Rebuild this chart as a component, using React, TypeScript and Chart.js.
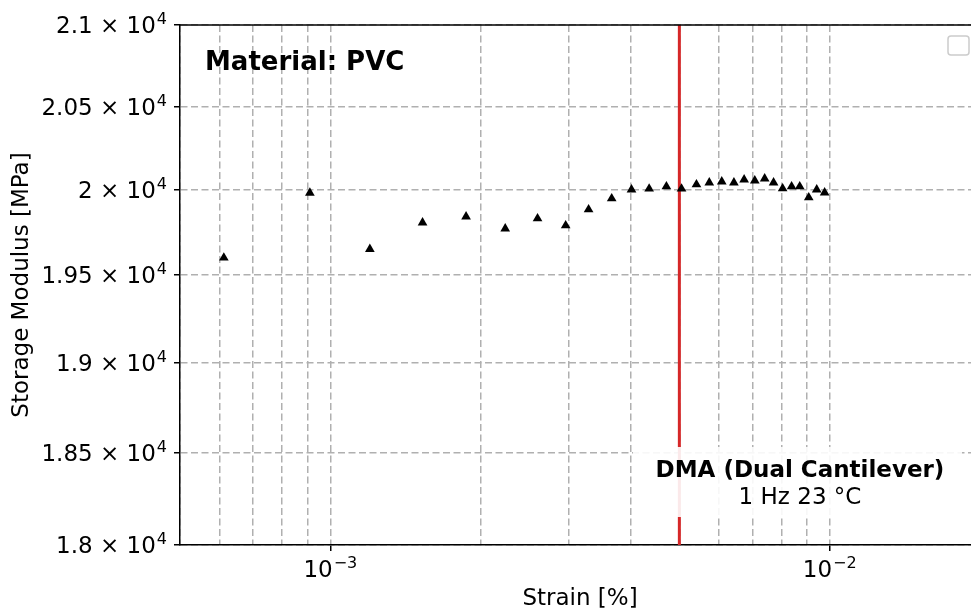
import { useEffect, useRef } from "react";
import { Chart, registerables } from "chart.js";

Chart.register(...registerables);

// Measured strain sweep (DMA, dual cantilever, 1 Hz, 23 °C)
const STRAIN = [
  6.12e-4, 9.1e-4, 1.2e-3, 1.53e-3, 1.87e-3, 2.24e-3, 2.6e-3, 2.96e-3, 3.29e-3, 3.66e-3,
  4.01e-3, 4.35e-3, 4.71e-3, 5.05e-3, 5.41e-3, 5.74e-3, 6.08e-3, 6.43e-3, 6.74e-3, 7.08e-3,
  7.41e-3, 7.72e-3, 8.05e-3, 8.39e-3, 8.71e-3, 9.08e-3, 9.42e-3, 9.77e-3,
];
const MODULUS = [
  19600, 19980, 19650, 19805, 19840, 19770, 19829, 19788, 19882, 19947,
  20000, 20005, 20018, 20005, 20030, 20041, 20047, 20041, 20059, 20053,
  20065, 20041, 20006, 20018, 20018, 19953, 20000, 19982,
];

// Limit of the linear viscoelastic region
const LVR_LIMIT = 0.005;

const X_MIN = 5e-4;
const X_MAX = 2e-2;
const Y_MIN = 18000;
const Y_MAX = 21000;

const X_TICKS = [
  5e-4, 6e-4, 7e-4, 8e-4, 9e-4,
  1e-3, 2e-3, 3e-3, 4e-3, 5e-3, 6e-3, 7e-3, 8e-3, 9e-3,
  1e-2, 2e-2,
];
// decade ticks: value, mantissa text, exponent text
const X_MAJOR_TICKS = [1e-3, 1e-2];
const X_MAJOR_BASES = ["10", "10"];
const X_MAJOR_EXPONENTS = ["−3", "−2"];

const Y_TICKS = [18000, 18500, 19000, 19500, 20000, 20500, 21000];
const Y_TICK_BASES = ["1.8 × 10", "1.85 × 10", "1.9 × 10", "1.95 × 10", "2 × 10", "2.05 × 10", "2.1 × 10"];
const Y_TICK_EXPONENT = "4";

const TITLE_TEXT = "Material: PVC";
const METHOD_TEXT = "DMA (Dual Cantilever)";
const CONDITION_TEXT = "1 Hz 23 °C";

const FONT = "'DejaVu Sans', sans-serif";
const FONT_SIZE = 23;
const SUP_SIZE = 16;
const SUP_RAISE = 9;

const majorIndex = (v: number) =>
  X_MAJOR_TICKS.findIndex((m) => Math.abs(Math.log10(v) - Math.log10(m)) < 1e-9);

const overlayPlugin = {
  id: "overlay",
  afterDatasetsDraw(chart: any) {
    const { ctx, chartArea } = chart;
    const { left, top, right, bottom } = chartArea;
    const xScale = chart.scales.x;
    const yScale = chart.scales.y;
    ctx.save();

    // top spine
    ctx.strokeStyle = "#000";
    ctx.lineWidth = 1.5;
    ctx.beginPath();
    ctx.moveTo(left, top);
    ctx.lineTo(right, top);
    ctx.stroke();

    // y tick labels with superscript exponent
    ctx.fillStyle = "#000";
    ctx.textBaseline = "alphabetic";
    const yLabelRight = left - 13;
    ctx.font = `${SUP_SIZE}px ${FONT}`;
    const supW = ctx.measureText(Y_TICK_EXPONENT).width;
    Y_TICKS.forEach((v, i) => {
      const py = yScale.getPixelForValue(v);
      const baseY = py + 8.4;
      ctx.font = `${FONT_SIZE}px ${FONT}`;
      ctx.textAlign = "right";
      ctx.fillText(Y_TICK_BASES[i], yLabelRight - supW - 1, baseY);
      ctx.font = `${SUP_SIZE}px ${FONT}`;
      ctx.textAlign = "left";
      ctx.fillText(Y_TICK_EXPONENT, yLabelRight - supW, baseY - SUP_RAISE);
    });

    // x tick labels (decades)
    X_MAJOR_TICKS.forEach((v, i) => {
      const px = xScale.getPixelForValue(v);
      ctx.font = `${FONT_SIZE}px ${FONT}`;
      const bw = ctx.measureText(X_MAJOR_BASES[i]).width;
      ctx.font = `${SUP_SIZE}px ${FONT}`;
      const ew = ctx.measureText(X_MAJOR_EXPONENTS[i]).width;
      const x0 = px - (bw + ew + 1) / 2;
      const baseY = bottom + 32;
      ctx.textAlign = "left";
      ctx.font = `${FONT_SIZE}px ${FONT}`;
      ctx.fillText(X_MAJOR_BASES[i], x0, baseY);
      ctx.font = `${SUP_SIZE}px ${FONT}`;
      ctx.fillText(X_MAJOR_EXPONENTS[i], x0 + bw + 1, baseY - SUP_RAISE);
    });

    // material heading
    ctx.fillStyle = "#000";
    ctx.font = `bold 26px ${FONT}`;
    ctx.textAlign = "left";
    ctx.fillText(TITLE_TEXT, left + 25, top + 45);

    // test condition box in the lower right
    const boxRight = right - 18;
    const boxLeft = right - 347;
    const boxTop = bottom - 98;
    const boxBottom = bottom - 28;
    ctx.fillStyle = "rgba(255,255,255,0.9)";
    ctx.fillRect(boxLeft, boxTop, boxRight - boxLeft, boxBottom - boxTop);
    const cx = right - 180;
    ctx.fillStyle = "#000";
    ctx.textAlign = "center";
    ctx.font = `bold ${FONT_SIZE}px ${FONT}`;
    ctx.fillText(METHOD_TEXT, cx, bottom - 68);
    ctx.font = `${FONT_SIZE}px ${FONT}`;
    ctx.fillText(CONDITION_TEXT, cx, bottom - 41);

    // empty legend frame
    ctx.fillStyle = "rgba(255,255,255,0.8)";
    ctx.strokeStyle = "#cccccc";
    ctx.lineWidth = 1.5;
    ctx.beginPath();
    ctx.roundRect(right - 32, top + 11, 21, 19, 3);
    ctx.fill();
    ctx.stroke();

    ctx.restore();
  },
};

export default function App() {
  const canvasRef = useRef<HTMLCanvasElement | null>(null);

  useEffect(() => {
    const canvas = canvasRef.current;
    if (!canvas) return;

    const gridColor = "#b0b0b0";
    const dash = [7, 3.5];

    const chart = new Chart(canvas, {
      type: "scatter",
      data: {
        datasets: [
          {
            type: "scatter",
            data: STRAIN.map((x, i) => ({ x, y: MODULUS[i] })),
            pointStyle: "triangle",
            pointRadius: 5.6,
            backgroundColor: "#000",
            borderColor: "#000",
            borderWidth: 0,
            order: 0,
          },
          {
            type: "line",
            data: [
              { x: LVR_LIMIT, y: Y_MIN },
              { x: LVR_LIMIT, y: Y_MAX },
            ],
            borderColor: "#d62728",
            borderWidth: 3,
            pointRadius: 0,
            order: 1,
          },
        ],
      } as any,
      options: {
        animation: false,
        responsive: false,
        devicePixelRatio: 1,
        layout: { autoPadding: false, padding: { top: 25, left: 0, right: 0, bottom: 0 } },
        plugins: {
          legend: { display: false },
          tooltip: { enabled: false },
        },
        scales: {
          x: {
            type: "logarithmic",
            min: X_MIN,
            max: X_MAX,
            afterBuildTicks: (scale: any) => {
              scale.ticks = X_TICKS.map((v) => ({ value: v, major: majorIndex(v) >= 0 }));
            },
            afterFit: (scale: any) => {
              scale.height = 69;
            },
            ticks: { display: false, autoSkip: false },
            grid: {
              color: gridColor,
              lineWidth: 1.5,
              tickLength: 6,
              tickWidth: 1.5,
              tickColor: (c: any) =>
                c.tick && majorIndex(c.tick.value) >= 0 ? "#000" : "rgba(0,0,0,0)",
            },
            border: { display: true, color: "#000", width: 1.5, dash },
            title: {
              display: true,
              text: "Strain [%]",
              color: "#000",
              font: { family: FONT, size: FONT_SIZE },
              padding: { top: 0, bottom: 1 },
            },
          },
          y: {
            type: "logarithmic",
            min: Y_MIN,
            max: Y_MAX,
            afterBuildTicks: (scale: any) => {
              scale.ticks = Y_TICKS.map((v) => ({ value: v, major: true }));
            },
            afterFit: (scale: any) => {
              scale.width = 180;
            },
            ticks: { display: false, autoSkip: false },
            grid: {
              color: gridColor,
              lineWidth: 1.5,
              tickLength: 6,
              tickWidth: 1.5,
              tickColor: "#000",
            },
            border: { display: true, color: "#000", width: 1.5, dash },
            title: {
              display: true,
              text: "Storage Modulus [MPa]",
              color: "#000",
              font: { family: FONT, size: FONT_SIZE },
              padding: { top: 8, bottom: 0 },
            },
          },
        },
      } as any,
      plugins: [overlayPlugin],
    });

    return () => chart.destroy();
  }, []);

  return (
    <div
      style={{
        position: "fixed",
        left: 0,
        top: 0,
        width: 980,
        height: 614,
        background: "#fff",
      }}
    >
      <canvas ref={canvasRef} width={980} height={614} style={{ display: "block" }} />
    </div>
  );
}
